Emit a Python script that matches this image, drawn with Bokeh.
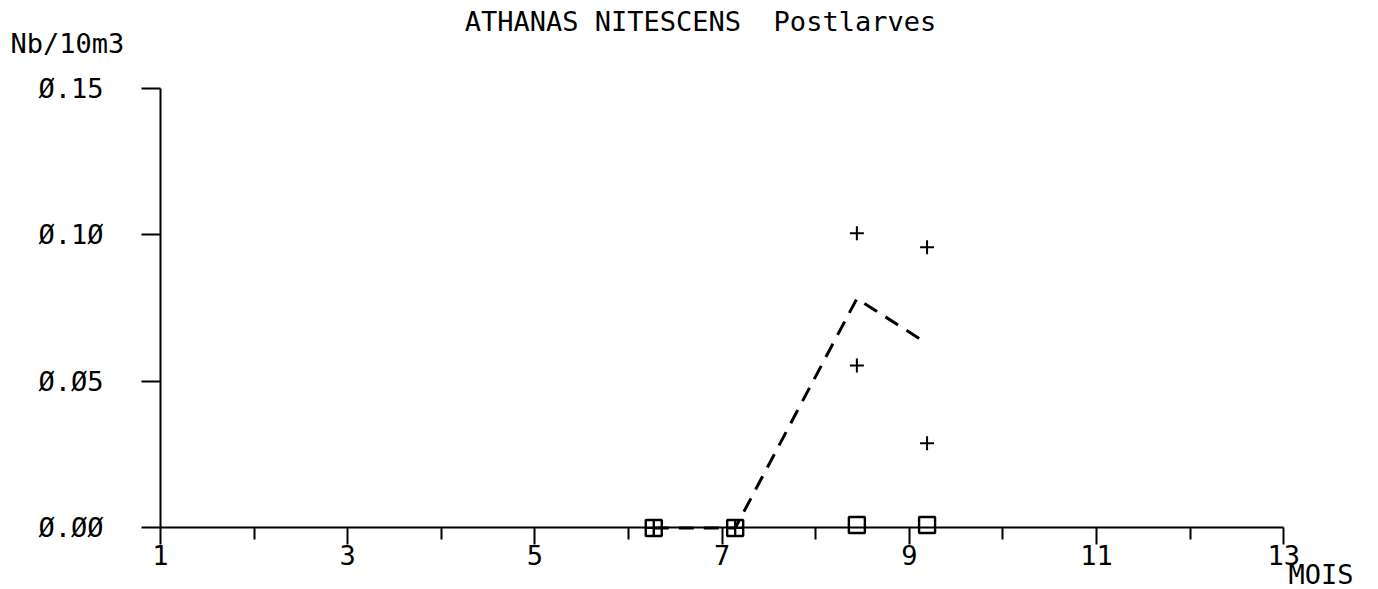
from bokeh.plotting import figure
from bokeh.models import Range1d, FixedTicker, Label, LinearAxis
from bokeh.embed import file_html
from bokeh.resources import INLINE

# ---- data ----
months = [6.27, 7.14, 8.44, 9.19]
sample_a = [0.0, 0.0, 0.1005, 0.0957]
sample_b = [0.0, 0.0, 0.0554, 0.0289]
mean_vals = [0.0, 0.0, 0.0782, 0.0629]
square_vals = [0.0, 0.0, 0.001, 0.001]

x_major = [1, 3, 5, 7, 9, 11, 13]
x_minor = [2, 4, 6, 8, 10, 12]
y_ticks = [0, 0.05, 0.1, 0.15]
y_tick_labels = ["Ø.ØØ", "Ø.Ø5", "Ø.1Ø", "Ø.15"]

FONT = "DejaVu Sans Mono"
FS = "27px"

# frame covers the whole canvas; axes are placed at x=1 and y=0
p = figure(width=1378, height=589,
           x_range=Range1d(-0.7094, 14.013), y_range=Range1d(-0.020966, 0.17983),
           output_backend="svg", toolbar_location=None,
           x_axis_location=None, y_axis_location=None,
           min_border_left=0, min_border_right=0, min_border_top=0, min_border_bottom=0)
p.outline_line_color = None
p.xgrid.visible = False
p.ygrid.visible = False
p.background_fill_color = "white"
p.border_fill_color = "white"

xa = LinearAxis(fixed_location=0, bounds=(1, 13))
xa.ticker = FixedTicker(ticks=x_major, minor_ticks=x_minor)
xa.major_tick_out = 17
xa.major_tick_in = 0
xa.minor_tick_out = 12
xa.minor_tick_in = 0
xa.major_label_standoff = 0
xa.axis_line_width = 2
xa.major_tick_line_width = 2
xa.minor_tick_line_width = 2
xa.axis_line_color = "black"
xa.major_tick_line_color = "black"
xa.minor_tick_line_color = "black"
xa.major_label_text_font = FONT
xa.major_label_text_font_size = FS
xa.major_label_text_color = "black"
p.add_layout(xa, "below")

ya = LinearAxis(fixed_location=1, bounds=(0, 0.15))
ya.ticker = FixedTicker(ticks=y_ticks, minor_ticks=[])
ya.major_label_overrides = {t: l for t, l in zip(y_ticks, y_tick_labels)}
ya.major_tick_out = 19
ya.major_tick_in = 0
ya.minor_tick_out = 0
ya.minor_tick_in = 0
ya.major_label_standoff = 38
ya.axis_line_width = 2
ya.major_tick_line_width = 2
ya.axis_line_color = "black"
ya.major_tick_line_color = "black"
ya.major_label_text_font = FONT
ya.major_label_text_font_size = FS
ya.major_label_text_color = "black"
p.add_layout(ya, "left")

# mean line (dashed)
p.line(months, mean_vals, line_color="black", line_width=3, line_dash="15 10")

# individual samples (+)
p.scatter(months, sample_a, marker="cross", size=14, line_color="black", line_width=2)
p.scatter(months, sample_b, marker="cross", size=14, line_color="black", line_width=2)

# squares
p.scatter(months, square_vals, marker="square", size=16, line_color="black",
          line_width=2.4, fill_color=None)

def lab(x, y, text, align="left"):
    p.add_layout(Label(x=x, y=y, text=text, text_font=FONT, text_font_size=FS,
                       text_color="black", text_align=align, text_baseline="middle"))

lab(6.769, 0.17267, "ATHANAS NITESCENS\u00a0 Postlarves", "center")
lab(-0.6026, 0.16534, "Nb/10m3")
lab(13.051, -0.01585, "MOIS")

open("out.html", "w").write(file_html(p, INLINE))
